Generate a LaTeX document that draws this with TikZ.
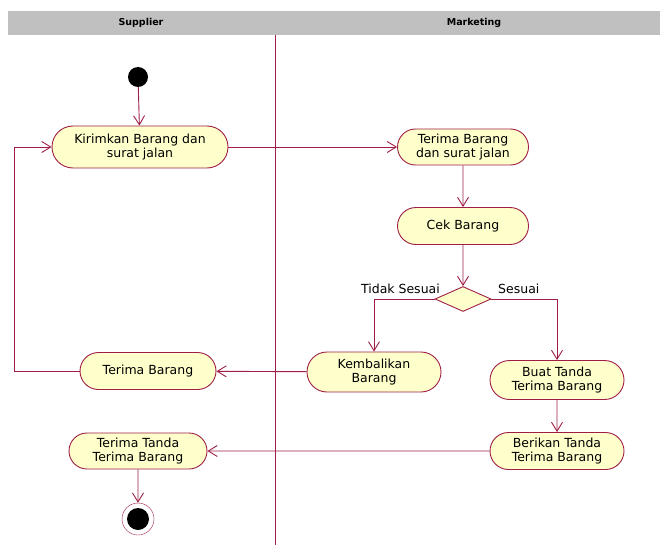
\documentclass[tikz,border=0pt]{standalone}
\usepackage{fontspec}
\setmainfont{DejaVu Sans}
\usetikzlibrary{arrows.meta,positioning,shapes.misc,shapes.geometric}
\definecolor{ActLine}{RGB}{158,30,70}
\definecolor{ActFill}{RGB}{255,255,204}
\definecolor{LaneGray}{RGB}{192,192,192}

\begin{document}
\begin{tikzpicture}[
  x=1pt,y=-1pt,
  act/.style={
    draw=ActLine,fill=ActFill,rounded rectangle,align=center,
    minimum height=37pt,inner sep=2pt,line width=0.9pt,
    font=\fontsize{12.5}{14.5}\selectfont
  },
  dec/.style={draw=ActLine,fill=ActFill,diamond,minimum width=56pt,
    minimum height=25pt,inner sep=0pt,line width=0.9pt},
  lbl/.style={font=\fontsize{12.5}{14.5}\selectfont,inner sep=1pt},
  lane/.style={font=\bfseries\fontsize{9.5}{11}\selectfont},
  arr/.style={-{Straight Barb[length=9pt,width=11pt]},ActLine,line width=0.9pt}
]
  \useasboundingbox (0,0) rectangle (660,545);
  \fill[LaneGray] (8,11) rectangle (660,35);
  \draw[ActLine,line width=0.9pt] (275,35) -- (275,545);
  \node[lane] (supplier) at (141,23) {Supplier};
  \node[lane] (marketing) at (474,23) {Marketing};

  \node[circle,fill=black,minimum size=20pt,inner sep=0pt] (start) at (138,77) {};
  \node[act,minimum width=180pt,minimum height=42pt] (kirim) at (140,147)
    {Kirimkan Barang dan\\surat jalan};
  \node[act,minimum width=135pt,minimum height=36pt] (terimasj) at (463,147)
    {Terima Barang\\dan surat jalan};
  \node[act,minimum width=135pt] (cek) at (463,226) {Cek Barang};
  \node[dec] (cocok) at (463,299) {};
  \node[lbl,anchor=east] (tidak) at (441,289) {Tidak Sesuai};
  \node[lbl,anchor=west] (sesuai) at (497,289) {Sesuai};
  \node[act,minimum width=138pt,minimum height=40pt] (kembali) at (374,372)
    {Kembalikan\\Barang};
  \node[act,minimum width=138pt,minimum height=39pt] (buat) at (557,380)
    {Buat Tanda\\Terima Barang};
  \node[act,minimum width=138pt] (berikan) at (557,451)
    {Berikan Tanda\\Terima Barang};
  \node[act,minimum width=140pt] (terimab) at (148,371) {Terima Barang};
  \node[act,minimum width=142pt,minimum height=36pt] (terimat) at (138,451)
    {Terima Tanda\\Terima Barang};
  \node[circle,draw=ActLine,fill=white,minimum size=32pt,inner sep=0pt] (end) at (138,519) {};
  \node[circle,fill=black,minimum size=22pt,inner sep=0pt] (endin) at (end) {};
  \coordinate (balik) at (14,0);

  \draw[arr] (start) -- (kirim);
  \draw[arr] (kirim.east) -- (terimasj.west);
  \draw[arr] (terimasj) -- (cek);
  \draw[arr] (cek) -- (cocok);
  \draw[arr] (cocok.west) -| (kembali);
  \draw[arr] (cocok.east) -| (buat);
  \draw[arr] (buat) -- (berikan);
  \draw[arr] (kembali) -- (terimab);
  \draw[arr] (terimab.west) -- (terimab.west -| balik) |- (kirim.west);
  \draw[arr] (berikan) -- (terimat);
  \draw[arr] (terimat) -- (end);
\end{tikzpicture}
\end{document}
